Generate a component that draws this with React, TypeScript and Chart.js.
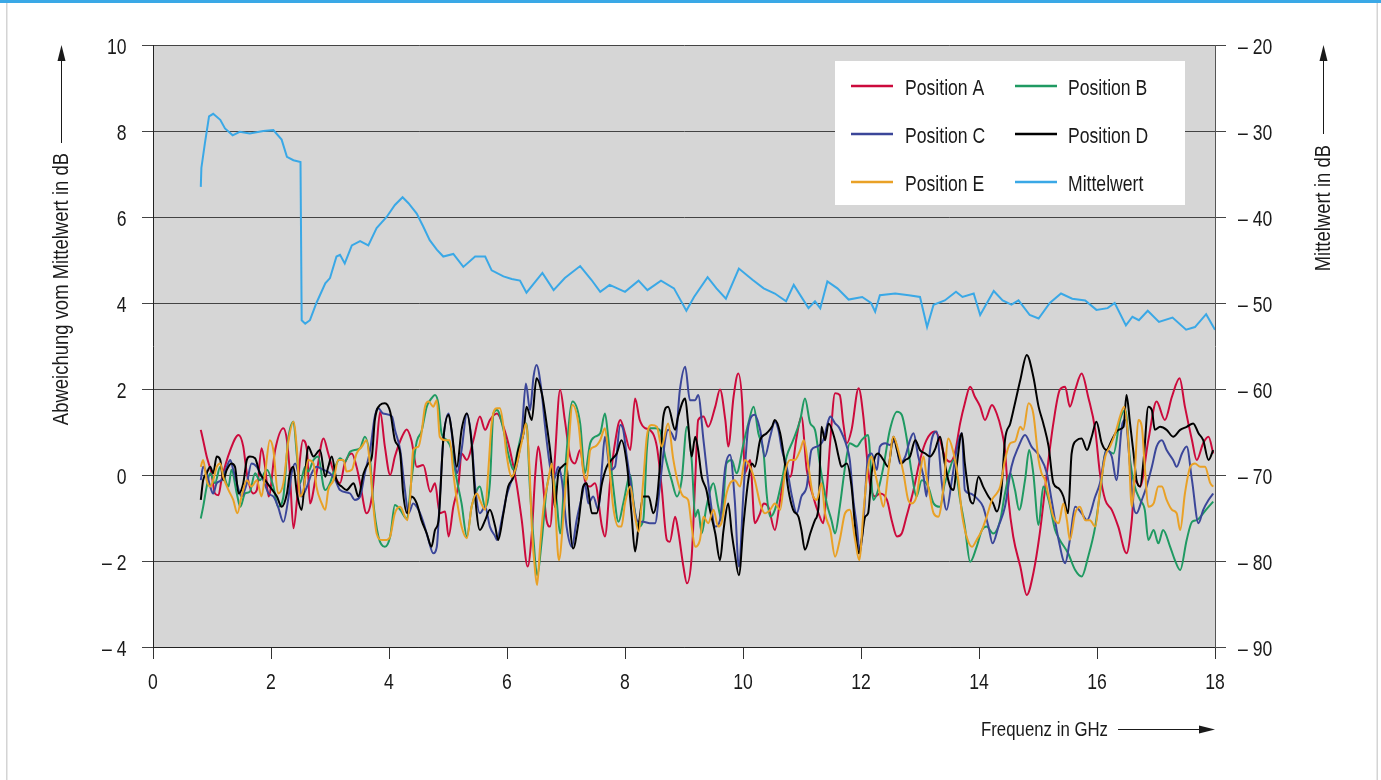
import React, { useEffect, useRef } from "react";
import { Chart, registerables } from "chart.js";

Chart.register(...registerables);

const W = 1381;
const H = 780;
const FONT = '"Liberation Sans", Arial, Helvetica, sans-serif';
const FS = 22;
const FS_TITLE = 21;
const FS_VTITLE = 22;
const SX = 0.8; // horizontal squeeze to mimic a condensed face
const SX_VTITLE = 0.84;

// ---- data ----
const xTickValues = [0, 2, 4, 6, 8, 10, 12, 14, 16, 18];
const leftTickValues = [-4, -2, 0, 2, 4, 6, 8, 10];
const rightTickValues = [-90, -80, -70, -60, -50, -40, -30, -20];

const seriesNames = ["Position A", "Position B", "Position C", "Position D", "Position E", "Mittelwert"];
const seriesColors = ["#cc0a3c", "#1f9a62", "#3b4699", "#000000", "#e9a126", "#3aa8e6"];

// [Frequenz GHz, Abweichung dB]
const posA: [number, number][] = [[0.81,1.05],[0.85,0.81],[0.91,0.43],[0.99,0.04],[1.05,-0.43],[1.11,-0.47],[1.16,-0.12],[1.31,0.58],[1.45,0.93],[1.53,0.66],[1.59,0.04],[1.70,-0.43],[1.76,-0.35],[1.84,0.62],[1.90,0.19],[1.96,-0.50],[2.07,0.58],[2.21,1.09],[2.27,0.81],[2.32,0.04],[2.38,-1.24],[2.44,-0.58],[2.49,0.35],[2.54,0.81],[2.61,0.58],[2.66,-0.66],[2.77,0.04],[2.89,0.85],[2.97,0.50],[3.09,-0.04],[3.17,-0.19],[3.25,0.27],[3.37,0.50],[3.45,0.19],[3.51,-0.19],[3.62,-0.89],[3.71,-0.50],[3.79,0.66],[3.85,1.47],[3.93,0.66],[4.02,0.00],[4.10,0.43],[4.22,0.89],[4.30,1.06],[4.38,0.81],[4.47,0.19],[4.58,0.23],[4.70,-0.39],[4.78,-0.19],[4.86,-0.89],[4.95,-0.85],[5.01,-1.43],[5.09,-0.74],[5.18,-0.19],[5.23,0.50],[5.32,0.35],[5.43,0.81],[5.54,1.36],[5.63,1.05],[5.71,1.28],[5.83,1.43],[5.94,1.12],[6.05,0.58],[6.16,-0.19],[6.25,-1.05],[6.35,-2.13],[6.42,-1.36],[6.48,0.04],[6.53,0.66],[6.59,0.12],[6.67,-1.05],[6.73,-1.20],[6.81,0.35],[6.90,1.98],[6.98,1.28],[7.07,0.43],[7.15,0.27],[7.24,0.58],[7.32,-0.12],[7.41,-0.27],[7.49,-0.19],[7.61,-1.20],[7.66,-1.43],[7.75,-0.12],[7.83,0.74],[7.92,1.28],[8.00,0.97],[8.09,0.58],[8.17,1.78],[8.25,1.28],[8.34,1.09],[8.42,1.05],[8.54,0.66],[8.62,-0.27],[8.71,-1.51],[8.76,-1.55],[8.85,-0.97],[8.90,-1.28],[8.99,-2.13],[9.05,-2.52],[9.13,-1.90],[9.19,-0.12],[9.24,1.28],[9.33,1.36],[9.41,1.12],[9.53,1.59],[9.61,1.99],[9.70,1.28],[9.75,0.66],[9.84,1.82],[9.92,2.36],[9.99,1.59],[10.03,0.04],[10.12,0.35],[10.20,-1.12],[10.29,-0.89],[10.35,-0.66],[10.43,-0.74],[10.54,-1.28],[10.63,-0.58],[10.71,0.04],[10.80,-0.04],[10.91,0.89],[10.99,1.36],[11.08,0.12],[11.19,-0.50],[11.28,-0.89],[11.36,-1.12],[11.42,-0.35],[11.48,0.81],[11.56,1.90],[11.64,1.86],[11.70,1.20],[11.76,0.74],[11.84,1.05],[11.96,2.02],[12.04,1.36],[12.10,0.43],[12.15,-0.19],[12.24,-0.50],[12.32,-0.43],[12.44,-0.58],[12.52,-1.05],[12.61,-1.43],[12.69,-1.36],[12.77,-0.97],[12.89,-0.35],[13.00,0.35],[13.11,0.81],[13.25,1.01],[13.34,0.81],[13.42,0.43],[13.51,0.31],[13.59,0.50],[13.68,1.20],[13.76,1.67],[13.85,2.05],[13.93,1.82],[14.02,1.59],[14.10,1.28],[14.22,1.63],[14.30,1.43],[14.38,1.05],[14.44,0.58],[14.50,-0.58],[14.58,-1.43],[14.70,-2.13],[14.81,-2.79],[14.92,-2.29],[15.03,-1.36],[15.15,0.04],[15.26,1.20],[15.37,1.98],[15.46,2.05],[15.54,1.59],[15.63,1.98],[15.74,2.36],[15.85,1.82],[15.97,1.05],[16.05,0.04],[16.14,-0.58],[16.25,-0.81],[16.36,-1.20],[16.50,-1.82],[16.59,-1.05],[16.64,-0.12],[16.73,-0.27],[16.87,0.81],[17.01,1.71],[17.15,1.28],[17.27,1.82],[17.40,2.25],[17.49,1.59],[17.61,0.81],[17.69,0.35],[17.80,0.74],[17.89,0.89],[17.97,0.50]];

const posB: [number, number][] = [[0.81,-1.01],[0.85,-0.74],[0.91,-0.27],[0.97,0.04],[1.05,-0.19],[1.14,0.19],[1.19,0.04],[1.28,-0.27],[1.33,0.12],[1.42,-0.43],[1.48,-0.74],[1.56,-0.43],[1.64,-0.39],[1.73,0.04],[1.81,-0.12],[1.93,0.12],[2.04,-0.27],[2.12,-0.74],[2.21,-0.50],[2.29,0.81],[2.38,1.24],[2.44,0.43],[2.49,-0.19],[2.58,0.19],[2.63,0.08],[2.72,0.35],[2.80,0.43],[2.89,-0.27],[2.92,-0.35],[3.00,-0.19],[3.09,0.19],[3.17,0.39],[3.25,0.31],[3.34,0.54],[3.42,0.58],[3.51,0.62],[3.59,0.89],[3.68,0.35],[3.73,-0.58],[3.82,-1.43],[3.93,-1.67],[4.02,-1.43],[4.10,-0.70],[4.19,-0.81],[4.30,-1.01],[4.38,-0.12],[4.47,0.78],[4.55,1.01],[4.64,1.59],[4.72,1.78],[4.78,1.86],[4.84,1.63],[4.89,0.97],[4.98,0.81],[5.06,0.58],[5.15,-0.12],[5.23,-0.66],[5.32,-1.43],[5.40,-0.74],[5.49,-0.35],[5.54,-0.27],[5.63,-0.74],[5.71,-0.19],[5.77,1.43],[5.83,1.51],[5.94,1.05],[6.02,0.50],[6.11,0.12],[6.16,0.43],[6.28,1.12],[6.33,1.20],[6.39,-0.35],[6.45,-1.51],[6.51,-2.33],[6.59,-1.51],[6.67,-0.35],[6.76,0.12],[6.84,-0.58],[6.90,-1.36],[6.98,0.04],[7.11,1.71],[7.24,1.20],[7.32,0.04],[7.41,0.74],[7.49,0.89],[7.58,0.97],[7.66,1.43],[7.72,0.81],[7.80,-0.27],[7.89,-1.09],[7.97,-0.66],[8.09,0.00],[8.14,-0.58],[8.23,-1.20],[8.31,-1.05],[8.37,0.58],[8.42,1.09],[8.51,1.09],[8.59,1.05],[8.68,0.43],[8.79,-0.12],[8.88,-0.50],[8.96,-0.12],[9.05,1.12],[9.13,0.35],[9.19,-0.97],[9.24,-0.81],[9.30,-1.36],[9.38,-0.74],[9.50,-0.19],[9.58,-0.74],[9.64,-1.05],[9.72,0.27],[9.81,0.35],[9.89,0.04],[10.01,0.74],[10.09,1.20],[10.18,1.59],[10.26,0.97],[10.35,0.50],[10.40,-0.43],[10.46,-0.97],[10.54,-0.81],[10.66,-0.12],[10.74,0.43],[10.85,0.81],[10.97,1.28],[11.05,1.78],[11.14,1.20],[11.22,1.05],[11.31,0.19],[11.42,-0.66],[11.50,-1.05],[11.56,-1.36],[11.64,-0.74],[11.73,0.19],[11.81,0.74],[11.93,0.66],[12.01,0.81],[12.12,0.93],[12.21,-0.58],[12.29,-0.35],[12.38,0.19],[12.49,1.05],[12.61,1.47],[12.69,1.40],[12.77,0.89],[12.86,0.04],[12.94,-0.50],[13.03,-0.12],[13.14,-0.27],[13.23,-0.66],[13.34,-0.74],[13.42,-0.19],[13.48,0.04],[13.57,0.35],[13.68,-0.58],[13.76,-1.20],[13.85,-2.02],[13.96,-1.67],[14.05,-1.28],[14.13,-1.20],[14.24,-1.36],[14.36,-1.05],[14.44,-0.43],[14.53,0.04],[14.61,-0.35],[14.68,-0.81],[14.78,-0.12],[14.85,0.58],[14.92,0.04],[15.01,-1.16],[15.09,-0.27],[15.18,-0.58],[15.29,-1.28],[15.37,-1.51],[15.51,-1.82],[15.63,-2.21],[15.74,-2.36],[15.85,-1.90],[15.97,-1.20],[16.05,-0.43],[16.16,0.58],[16.28,0.50],[16.39,1.28],[16.48,1.51],[16.56,0.35],[16.64,-0.27],[16.73,-0.58],[16.81,-0.81],[16.87,-1.51],[16.96,-1.28],[17.04,-1.59],[17.12,-1.28],[17.24,-1.67],[17.32,-1.98],[17.41,-2.21],[17.52,-1.51],[17.61,-1.09],[17.69,-1.05],[17.80,-0.89],[17.89,-0.74],[17.97,-0.62]];

const posC: [number, number][] = [[0.81,-0.12],[0.85,0.19],[0.91,0.04],[0.97,-0.27],[1.02,-0.43],[1.08,-0.19],[1.16,-0.12],[1.25,0.19],[1.31,0.35],[1.36,0.12],[1.42,-0.19],[1.50,-0.50],[1.59,-0.19],[1.67,0.27],[1.76,0.19],[1.87,-0.12],[1.96,-0.43],[2.04,-0.50],[2.12,-0.74],[2.21,-1.09],[2.29,-0.58],[2.35,0.04],[2.41,0.27],[2.46,0.04],[2.52,-0.50],[2.61,-0.27],[2.69,0.04],[2.77,0.19],[2.89,0.12],[3.00,0.04],[3.09,-0.12],[3.17,-0.35],[3.34,-0.43],[3.42,-0.58],[3.51,-0.50],[3.59,0.04],[3.68,0.58],[3.76,1.36],[3.82,1.55],[3.90,1.43],[4.05,1.36],[4.10,1.05],[4.19,0.58],[4.27,-0.35],[4.33,-0.89],[4.41,-0.66],[4.50,-0.81],[4.58,-1.09],[4.67,-1.51],[4.75,-1.82],[4.81,-1.67],[4.86,-0.58],[4.92,0.81],[5.01,1.43],[5.09,0.66],[5.15,0.04],[5.23,0.58],[5.32,1.43],[5.40,0.81],[5.46,-0.27],[5.54,-0.89],[5.63,-0.74],[5.71,-1.20],[5.80,-1.43],[5.83,-1.51],[5.91,-1.05],[5.99,-0.50],[6.08,-0.12],[6.16,0.19],[6.25,0.97],[6.32,2.13],[6.39,1.51],[6.45,2.29],[6.50,2.56],[6.59,1.90],[6.64,1.20],[6.73,0.19],[6.79,-0.12],[6.87,0.19],[6.93,-0.12],[7.01,-1.20],[7.10,-1.67],[7.18,-1.05],[7.27,-0.50],[7.32,-0.19],[7.38,-0.66],[7.46,-0.50],[7.55,-0.81],[7.61,0.19],[7.66,0.89],[7.75,0.12],[7.83,0.19],[7.92,1.16],[7.97,1.05],[8.03,0.43],[8.09,-0.12],[8.17,-0.89],[8.23,-1.09],[8.31,-1.09],[8.42,-1.12],[8.51,-1.12],[8.59,-0.27],[8.68,0.81],[8.73,1.05],[8.79,0.97],[8.85,0.81],[8.93,1.98],[9.02,2.52],[9.10,1.74],[9.19,1.74],[9.24,1.86],[9.33,0.81],[9.44,-0.50],[9.53,-1.20],[9.61,-1.05],[9.70,0.19],[9.78,0.47],[9.86,-0.58],[9.93,-2.13],[10.01,-0.35],[10.09,1.12],[10.20,1.40],[10.29,1.05],[10.37,0.43],[10.46,0.89],[10.54,1.24],[10.60,1.05],[10.66,0.58],[10.74,0.19],[10.83,-0.50],[10.91,-0.89],[10.99,-0.50],[11.08,-0.27],[11.16,0.58],[11.25,0.66],[11.36,0.81],[11.45,1.28],[11.48,1.36],[11.56,1.20],[11.62,1.12],[11.70,0.89],[11.76,0.66],[11.81,0.35],[11.87,-0.58],[11.93,-1.20],[11.98,-1.82],[12.04,-1.12],[12.12,0.43],[12.18,0.50],[12.27,0.12],[12.32,0.66],[12.41,0.74],[12.49,0.70],[12.58,0.81],[12.66,0.27],[12.75,0.43],[12.83,0.81],[12.89,0.97],[12.97,0.43],[13.06,-0.04],[13.11,-0.50],[13.17,0.58],[13.28,1.01],[13.37,-0.19],[13.45,-0.81],[13.54,-0.12],[13.62,0.58],[13.71,0.97],[13.76,-0.35],[13.85,-0.43],[13.99,-0.58],[14.07,-0.74],[14.16,-1.20],[14.23,-1.59],[14.33,-1.20],[14.44,-0.74],[14.55,0.19],[14.67,0.66],[14.78,0.93],[14.89,0.66],[15.03,0.43],[15.15,0.04],[15.23,-0.58],[15.35,-1.51],[15.46,-2.05],[15.54,-1.51],[15.63,-0.74],[15.74,-0.89],[15.83,-1.05],[15.97,-0.50],[16.05,-0.19],[16.16,0.58],[16.25,0.43],[16.33,-0.12],[16.42,1.12],[16.48,1.28],[16.56,0.19],[16.62,-0.74],[16.67,-0.89],[16.76,-0.58],[16.84,-0.27],[16.93,0.19],[17.01,0.66],[17.10,0.81],[17.18,0.58],[17.29,0.35],[17.35,0.19],[17.44,0.50],[17.52,0.66],[17.61,-0.12],[17.72,-1.12],[17.80,-0.81],[17.89,-0.58],[17.97,-0.43]];

const posD: [number, number][] = [[0.81,-0.58],[0.85,-0.12],[0.91,0.04],[0.97,0.19],[1.02,0.04],[1.08,0.43],[1.14,0.35],[1.19,-0.12],[1.25,0.12],[1.33,0.27],[1.39,0.19],[1.45,-0.43],[1.53,-0.19],[1.59,0.35],[1.64,0.43],[1.73,0.39],[1.81,0.04],[1.90,-0.12],[1.98,-0.27],[2.10,-0.50],[2.18,-0.74],[2.27,-0.43],[2.32,0.04],[2.38,0.19],[2.44,-0.43],[2.52,-0.81],[2.58,0.04],[2.63,0.66],[2.72,0.43],[2.83,0.58],[2.92,-0.04],[2.97,0.19],[3.03,0.43],[3.11,-0.12],[3.20,-0.27],[3.28,-0.35],[3.40,-0.19],[3.48,-0.50],[3.57,0.04],[3.65,0.27],[3.71,0.43],[3.76,1.28],[3.85,1.63],[3.93,1.67],[4.02,1.47],[4.10,0.81],[4.19,0.50],[4.24,-0.43],[4.31,-0.89],[4.38,-0.50],[4.47,-0.66],[4.55,-1.05],[4.64,-1.36],[4.72,-1.67],[4.78,-1.28],[4.84,-1.05],[4.92,0.81],[5.01,1.40],[5.06,1.05],[5.15,0.19],[5.23,1.05],[5.32,1.43],[5.40,0.74],[5.46,-0.50],[5.54,-1.28],[5.63,-1.05],[5.71,-0.81],[5.80,-1.20],[5.85,-1.51],[5.94,-0.89],[6.02,-0.27],[6.11,-0.04],[6.19,0.58],[6.28,0.97],[6.33,1.59],[6.42,1.28],[6.50,2.25],[6.59,1.90],[6.67,1.20],[6.76,0.19],[6.81,-0.74],[6.87,0.04],[6.93,0.19],[7.01,0.27],[7.07,-1.20],[7.12,-1.71],[7.21,-1.12],[7.29,-0.27],[7.35,-0.19],[7.44,-0.89],[7.52,-0.89],[7.61,-0.19],[7.69,0.19],[7.77,0.35],[7.86,0.50],[7.94,0.81],[8.03,0.27],[8.11,-0.89],[8.17,-1.78],[8.23,-1.20],[8.31,-0.50],[8.40,-0.50],[8.48,-0.89],[8.54,-0.58],[8.59,0.19],[8.65,1.36],[8.73,1.59],[8.85,1.05],[8.90,1.36],[9.02,1.78],[9.07,1.20],[9.13,0.43],[9.19,0.89],[9.24,0.58],[9.30,-0.04],[9.38,-0.35],[9.44,-0.81],[9.53,-1.36],[9.61,-1.98],[9.67,-1.28],[9.75,-0.66],[9.81,-1.36],[9.86,-1.82],[9.93,-2.33],[10.01,-1.12],[10.09,-0.12],[10.15,0.27],[10.20,0.19],[10.29,0.81],[10.40,0.97],[10.49,1.12],[10.54,1.28],[10.63,0.97],[10.71,0.27],[10.77,-0.35],[10.85,-0.81],[10.94,-0.97],[10.99,-1.28],[11.05,-1.74],[11.14,-1.36],[11.22,-1.05],[11.28,-0.74],[11.33,1.12],[11.39,0.81],[11.45,1.20],[11.56,0.81],[11.62,0.43],[11.67,0.19],[11.76,0.27],[11.84,-0.27],[11.90,-1.20],[11.96,-1.82],[12.01,-1.51],[12.07,-0.97],[12.12,-0.89],[12.18,0.04],[12.24,0.43],[12.29,0.50],[12.38,0.35],[12.46,0.19],[12.55,0.89],[12.61,0.58],[12.69,0.27],[12.75,0.35],[12.83,0.43],[12.92,0.81],[13.00,0.58],[13.09,0.50],[13.17,0.43],[13.25,0.58],[13.34,0.89],[13.42,0.27],[13.51,-0.27],[13.57,-0.35],[13.62,0.19],[13.71,0.97],[13.76,0.27],[13.85,-0.58],[13.90,-0.66],[13.99,-0.04],[14.07,-0.27],[14.16,-0.50],[14.24,-0.66],[14.30,-0.85],[14.38,-0.35],[14.44,0.81],[14.53,1.20],[14.61,1.67],[14.70,2.21],[14.81,2.79],[14.92,2.29],[15.01,1.59],[15.09,1.20],[15.18,0.66],[15.26,-0.19],[15.35,-0.31],[15.43,-0.50],[15.51,-0.89],[15.57,0.50],[15.66,0.81],[15.74,0.85],[15.83,0.58],[15.91,0.89],[15.99,1.24],[16.08,0.74],[16.16,0.58],[16.25,0.81],[16.36,1.05],[16.45,1.12],[16.50,1.86],[16.56,1.20],[16.62,0.50],[16.67,-0.12],[16.73,-0.27],[16.79,0.35],[16.87,1.59],[16.93,1.51],[16.98,1.05],[17.07,1.12],[17.18,1.05],[17.29,0.89],[17.41,1.05],[17.52,1.12],[17.63,1.20],[17.72,0.97],[17.80,0.81],[17.89,0.35],[17.97,0.58]];

const posE: [number, number][] = [[0.81,0.19],[0.85,0.35],[0.91,-0.12],[0.97,-0.27],[1.02,-0.12],[1.08,0.19],[1.14,0.27],[1.19,-0.04],[1.28,-0.35],[1.36,-0.58],[1.43,-0.89],[1.50,-0.50],[1.59,-0.12],[1.67,-0.27],[1.76,-0.12],[1.84,-0.50],[1.90,0.04],[1.98,0.81],[2.04,0.58],[2.12,-0.43],[2.21,-0.19],[2.29,0.74],[2.38,1.24],[2.44,0.58],[2.49,-0.50],[2.55,-0.35],[2.63,0.35],[2.72,0.27],[2.77,-0.27],[2.86,-0.66],[2.92,-0.81],[2.97,-0.35],[3.06,-0.12],[3.14,0.35],[3.23,0.35],[3.28,0.08],[3.37,0.12],[3.45,0.50],[3.54,0.66],[3.62,0.81],[3.68,0.19],[3.73,-0.66],[3.79,-1.36],[3.88,-1.51],[3.96,-1.51],[4.02,-1.43],[4.10,-0.89],[4.19,-0.74],[4.27,-0.97],[4.31,-1.05],[4.36,-0.50],[4.41,0.58],[4.50,0.66],[4.55,0.97],[4.61,1.59],[4.67,1.71],[4.75,1.59],[4.81,1.74],[4.86,0.89],[4.95,0.81],[5.03,0.81],[5.09,0.04],[5.15,-0.58],[5.23,-1.20],[5.32,-1.47],[5.40,-0.74],[5.49,-0.43],[5.54,-0.58],[5.63,-0.81],[5.68,0.04],[5.74,1.20],[5.83,1.55],[5.88,1.55],[5.94,1.12],[5.99,0.50],[6.08,-0.04],[6.14,0.12],[6.22,0.58],[6.28,0.97],[6.32,1.20],[6.38,0.19],[6.42,-1.20],[6.48,-2.29],[6.51,-2.56],[6.56,-1.67],[6.62,-0.74],[6.70,-0.12],[6.76,0.27],[6.81,-0.58],[6.88,-1.98],[6.96,-0.89],[7.04,0.58],[7.11,1.63],[7.21,1.20],[7.29,0.12],[7.35,-0.12],[7.41,0.58],[7.49,0.66],[7.58,0.81],[7.66,1.09],[7.72,0.43],[7.80,-0.74],[7.89,-1.20],[7.94,-1.20],[8.00,-0.66],[8.09,-0.27],[8.17,-0.97],[8.23,-1.32],[8.31,-0.12],[8.37,0.89],[8.45,1.16],[8.54,1.12],[8.62,0.66],[8.73,1.20],[8.82,0.35],[8.90,-0.19],[8.99,-0.50],[9.07,-0.58],[9.13,-1.20],[9.19,-1.67],[9.27,-1.51],[9.33,-0.97],[9.41,-1.12],[9.50,-0.81],[9.58,-1.20],[9.64,-1.09],[9.72,-0.43],[9.78,-0.19],[9.86,-0.12],[9.95,-0.27],[10.03,0.35],[10.12,0.19],[10.20,-0.12],[10.29,-0.66],[10.37,-0.89],[10.46,-0.81],[10.54,-0.66],[10.63,-0.81],[10.71,0.04],[10.80,0.35],[10.88,0.35],[10.97,0.58],[11.03,0.81],[11.11,0.19],[11.19,-0.50],[11.25,-0.58],[11.33,-0.19],[11.39,-0.89],[11.48,-1.28],[11.56,-1.90],[11.64,-1.51],[11.73,-0.89],[11.81,-0.81],[11.90,-1.51],[11.97,-1.98],[12.04,-0.89],[12.12,0.19],[12.18,0.43],[12.24,0.04],[12.32,-0.43],[12.38,-0.74],[12.46,0.04],[12.55,0.89],[12.63,0.58],[12.72,0.04],[12.80,-0.58],[12.86,-0.66],[12.94,-0.50],[13.00,0.04],[13.06,0.43],[13.11,-0.04],[13.17,-0.50],[13.23,-0.89],[13.31,-0.97],[13.40,-0.27],[13.48,0.85],[13.57,0.50],[13.65,-0.12],[13.71,-0.89],[13.79,-1.43],[13.88,-1.67],[13.96,-1.51],[14.05,-1.28],[14.13,-0.97],[14.22,-0.58],[14.30,-0.43],[14.36,-0.27],[14.44,0.35],[14.53,0.74],[14.61,0.78],[14.70,1.12],[14.75,1.05],[14.84,1.67],[14.92,1.43],[15.01,0.35],[15.06,0.04],[15.12,-0.12],[15.18,-0.50],[15.26,-0.97],[15.35,-1.12],[15.43,-0.66],[15.49,-1.05],[15.54,-1.51],[15.63,-0.89],[15.71,-0.74],[15.80,-1.05],[15.88,-1.05],[15.97,-1.20],[16.05,-0.35],[16.14,0.43],[16.22,0.66],[16.31,0.97],[16.39,1.36],[16.46,1.59],[16.53,0.81],[16.59,-0.74],[16.64,0.04],[16.70,1.28],[16.76,1.12],[16.81,0.19],[16.87,-0.74],[16.96,-0.66],[17.04,-0.27],[17.10,-0.27],[17.18,-0.58],[17.27,-0.81],[17.35,-0.89],[17.41,-1.28],[17.49,-0.43],[17.58,0.19],[17.66,0.27],[17.75,0.19],[17.83,0.19],[17.92,-0.19],[17.97,-0.27]];

// [Frequenz GHz, Mittelwert dB] (right axis)
const mittelwert: [number, number][] = [[0.81,-36.5],[0.82,-34.3],[0.88,-31.4],[0.95,-28.3],[1.02,-28.0],[1.14,-28.7],[1.22,-29.7],[1.35,-30.5],[1.47,-30.1],[1.64,-30.3],[1.87,-30.0],[2.04,-29.9],[2.18,-31.0],[2.27,-33.0],[2.38,-33.4],[2.50,-33.6],[2.52,-52.0],[2.58,-52.4],[2.66,-52.0],[2.77,-50.0],[2.92,-47.7],[3.00,-47.1],[3.11,-44.6],[3.17,-44.4],[3.25,-45.4],[3.37,-43.3],[3.51,-42.8],[3.65,-43.3],[3.79,-41.3],[3.96,-40.0],[4.10,-38.6],[4.23,-37.7],[4.33,-38.4],[4.47,-39.6],[4.58,-41.1],[4.69,-42.7],[4.81,-43.8],[4.92,-44.6],[5.09,-44.3],[5.26,-45.8],[5.46,-44.6],[5.63,-44.6],[5.74,-46.2],[5.94,-46.9],[6.08,-47.2],[6.22,-47.4],[6.33,-48.8],[6.60,-46.5],[6.79,-48.5],[6.98,-47.1],[7.24,-45.7],[7.43,-47.3],[7.58,-48.7],[7.74,-47.9],[8.00,-48.7],[8.23,-47.4],[8.38,-48.5],[8.61,-47.4],[8.83,-48.3],[9.04,-50.9],[9.17,-49.3],[9.40,-47.0],[9.55,-48.3],[9.71,-49.5],[9.93,-46.0],[10.16,-47.3],[10.35,-48.3],[10.54,-48.9],[10.73,-49.8],[10.86,-47.9],[11.11,-50.6],[11.22,-49.8],[11.31,-50.6],[11.43,-47.5],[11.60,-48.3],[11.79,-49.6],[12.02,-49.3],[12.17,-50.0],[12.24,-51.0],[12.32,-49.1],[12.58,-48.9],[12.81,-49.1],[13.00,-49.3],[13.12,-52.8],[13.23,-50.2],[13.42,-49.7],[13.61,-48.7],[13.72,-49.3],[13.91,-48.9],[14.02,-51.4],[14.25,-48.6],[14.40,-49.7],[14.55,-50.2],[14.67,-49.7],[14.86,-51.4],[15.01,-51.8],[15.20,-50.0],[15.39,-48.9],[15.58,-49.5],[15.80,-49.7],[15.99,-50.8],[16.18,-50.6],[16.30,-50.0],[16.49,-52.6],[16.60,-51.6],[16.71,-52.0],[16.86,-50.9],[17.05,-52.2],[17.28,-51.7],[17.51,-53.1],[17.66,-52.8],[17.85,-51.3],[18.00,-53.1]];

const allSeries = [posA, posB, posC, posD, posE];

const fmtNum = (v: number) => (v < 0 ? "\u2013 " + Math.abs(v) : String(v));

const TEXT = "#1a1a1a";

function sqText(ctx: CanvasRenderingContext2D, text: string, x: number, y: number, align: CanvasTextAlign, size = FS) {
  ctx.save();
  ctx.font = `${size}px ${FONT}`;
  ctx.textBaseline = "alphabetic";
  ctx.translate(x, y);
  ctx.scale(SX, 1);
  ctx.textAlign = align;
  ctx.fillText(text, 0, 0);
  ctx.restore();
}

function sqTextUp(ctx: CanvasRenderingContext2D, text: string, cx: number, yStart: number, size: number) {
  // rotated text (reads bottom to top), upper end of text at yStart, centred on x = cx
  ctx.save();
  ctx.font = `${size}px ${FONT}`;
  const w = ctx.measureText(text).width * SX_VTITLE;
  ctx.translate(cx, yStart + w / 2);
  ctx.rotate(-Math.PI / 2);
  ctx.scale(SX_VTITLE, 1);
  ctx.textAlign = "center";
  ctx.textBaseline = "alphabetic";
  ctx.fillText(text, 0, 7);
  ctx.restore();
}

function drawArrowUp(ctx: CanvasRenderingContext2D, x: number, yFrom: number, yTip: number) {
  ctx.beginPath();
  ctx.moveTo(x, yFrom);
  ctx.lineTo(x, yTip + 14);
  ctx.stroke();
  ctx.beginPath();
  ctx.moveTo(x, yTip);
  ctx.lineTo(x - 4, yTip + 16);
  ctx.lineTo(x + 4, yTip + 16);
  ctx.closePath();
  ctx.fill();
}

const decorPlugin = {
  id: "decor",
  beforeDraw(chart: any) {
    const { ctx, chartArea: a } = chart;
    ctx.save();
    ctx.fillStyle = "#ffffff";
    ctx.fillRect(0, 0, W, H);
    ctx.fillStyle = "#d6d6d6";
    ctx.fillRect(a.left, a.top, a.right - a.left, a.bottom - a.top);
    ctx.fillStyle = "#3aa8e6";
    ctx.fillRect(0, 0, W, 3);
    ctx.fillStyle = "#d4d4d4";
    ctx.fillRect(6, 3, 1.5, H - 3);
    ctx.fillRect(1376.5, 3, 1.5, H - 3);
    ctx.restore();
  },
  afterDraw(chart: any) {
    const { ctx } = chart;
    ctx.save();
    ctx.fillStyle = TEXT;
    ctx.strokeStyle = TEXT;
    ctx.lineWidth = 1;

    // tick labels, positioned through the chart's scales
    const xs = chart.scales.x;
    const ys = chart.scales.y;
    const ys1 = chart.scales.y1;
    xTickValues.forEach((v) => sqText(ctx, fmtNum(v), xs.getPixelForValue(v), 689, "center"));
    leftTickValues.forEach((v) => sqText(ctx, fmtNum(v), 126.5, ys.getPixelForValue(v) + 9, "right"));
    rightTickValues.forEach((v) => sqText(ctx, fmtNum(v), 1238, ys1.getPixelForValue(v) + 9, "left"));

    // axis titles + arrows
    sqTextUp(ctx, "Abweichung vom Mittelwert in dB", 61, 153, FS_VTITLE);
    drawArrowUp(ctx, 61.5, 143, 45);
    sqTextUp(ctx, "Mittelwert in dB", 1323, 145, FS_VTITLE);
    drawArrowUp(ctx, 1323.5, 134, 45);

    sqText(ctx, "Frequenz in GHz", 1108, 735.5, "right", FS_TITLE);
    ctx.beginPath();
    ctx.moveTo(1118, 729.5);
    ctx.lineTo(1202, 729.5);
    ctx.stroke();
    ctx.beginPath();
    ctx.moveTo(1215, 729.5);
    ctx.lineTo(1199, 725.5);
    ctx.lineTo(1199, 733.5);
    ctx.closePath();
    ctx.fill();

    // legend
    ctx.fillStyle = "#ffffff";
    ctx.fillRect(835, 61, 350, 144);
    const colLine = [851, 1015];
    const colText = [905, 1068];
    const rows = [86, 134, 182];
    seriesNames.forEach((name, i) => {
      const c = i % 2;
      const r = Math.floor(i / 2);
      ctx.strokeStyle = seriesColors[i];
      ctx.lineWidth = 2.5;
      ctx.beginPath();
      ctx.moveTo(colLine[c], rows[r]);
      ctx.lineTo(colLine[c] + 42, rows[r]);
      ctx.stroke();
      ctx.fillStyle = TEXT;
      sqText(ctx, name, colText[c], rows[r] + 8.5, "left");
    });
    ctx.restore();
  },
};

export default function App() {
  const ref = useRef<HTMLCanvasElement | null>(null);

  useEffect(() => {
    if (!ref.current) return;
    const datasets: any[] = allSeries.map((s, i) => ({
      label: seriesNames[i],
      data: s.map(([x, y]) => ({ x, y })),
      borderColor: seriesColors[i],
      borderWidth: 2,
      pointRadius: 0,
      fill: false,
      cubicInterpolationMode: "monotone",
      yAxisID: "y",
      order: allSeries.length - i,
    }));
    datasets.push({
      label: seriesNames[5],
      data: mittelwert.map(([x, y]) => ({ x, y })),
      borderColor: seriesColors[5],
      borderWidth: 2,
      pointRadius: 0,
      fill: false,
      tension: 0,
      yAxisID: "y1",
      order: 0,
    });

    const chart = new Chart(ref.current, {
      type: "line",
      data: { datasets },
      options: {
        responsive: false,
        animation: false,
        devicePixelRatio: 1,
        events: [],
        layout: { padding: { top: 45, left: 0, right: 0, bottom: 0 } },
        plugins: { legend: { display: false }, tooltip: { enabled: false } },
        scales: {
          x: {
            type: "linear",
            position: "bottom",
            min: 0,
            max: 18,
            afterBuildTicks: (s: any) => { s.ticks = xTickValues.map((v) => ({ value: v })); },
            ticks: { display: false },
            grid: { drawOnChartArea: false, drawTicks: true, tickLength: 12, color: "#333333", lineWidth: 1 },
            border: { display: true, color: "#222222", width: 1 },
            afterFit: (s: any) => { s.height = H - 647; },
          },
          y: {
            type: "linear",
            position: "left",
            min: -4,
            max: 10,
            afterBuildTicks: (s: any) => { s.ticks = leftTickValues.map((v) => ({ value: v })); },
            ticks: { display: false },
            grid: { color: "#444444", lineWidth: 1, tickLength: 11, drawTicks: true },
            border: { display: true, color: "#222222", width: 1 },
            afterFit: (s: any) => { s.width = 153; },
          },
          y1: {
            type: "linear",
            position: "right",
            min: -90,
            max: -20,
            afterBuildTicks: (s: any) => { s.ticks = rightTickValues.map((v) => ({ value: v })); },
            ticks: { display: false },
            grid: { drawOnChartArea: false, color: "#444444", lineWidth: 1, tickLength: 11, drawTicks: true },
            border: { display: true, color: "#555555", width: 1 },
            afterFit: (s: any) => { s.width = W - 1215; },
          },
        },
      } as any,
      plugins: [decorPlugin],
    });
    return () => chart.destroy();
  }, []);

  return (
    <>
      <style>{"html,body{margin:0;padding:0;background:#fff}"}</style>
      <canvas ref={ref} width={W} height={H} style={{ display: "block", width: W, height: H }} />
    </>
  );
}
